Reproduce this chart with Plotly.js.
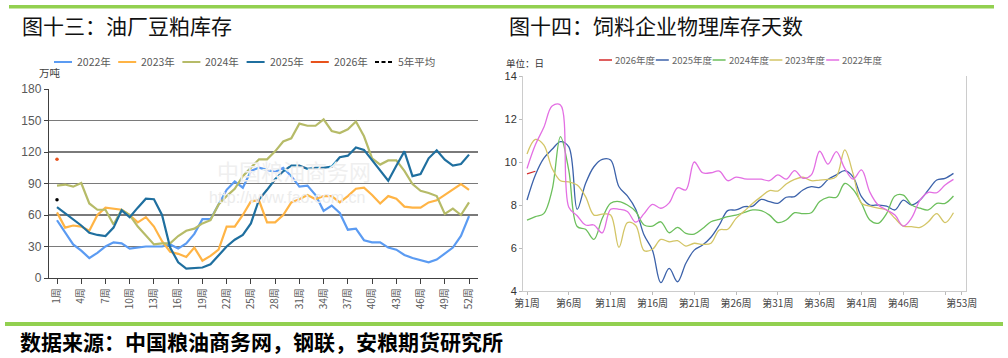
<!DOCTYPE html>
<html>
<head>
<meta charset="utf-8">
<script src="https://cdn.plot.ly/plotly-3.0.1.min.js"></script>
<style>html,body{margin:0;padding:0;background:#fff;}#chart{width:1008px;height:358px;}</style>
</head>
<body>
<div id="chart"></div>
<script>
// ---------- Left chart: 油厂豆粕库存 (万吨) ----------
const weeksL = [1,2,3,4,5,6,7,8,9,10,11,12,13,14,15,16,17,18,19,20,21,22,23,24,25,26,27,28,29,30,31,32,33,34,35,36,37,38,39,40,41,42,43,44,45,46,47,48,49,50,51,52];
const soy2022 = [55,43,32,26,19,24,30,34,33,28,29,30,30,30,32,28,33,42,56,56,70,84,92,86,102,105,103,101,105,97,87,88,79,64,69,62,46,47,36,34,34,29,27,22,19,17,15,17.5,23,29,40,59];
const soy2023 = [62.5,48,50,49,45,60,67,66,65,60,53,58,49,35,25,23,20,29,16.5,21,27,49,49,60,73,74,53,53,60,72,75,79,75,78,78,72,78,85,86,79,71,78,75.5,68,67,67,72,74,79,84,89.5,84];
const soy2024 = [88,89,87,90.5,71,65,65,51,65,60,49,40,32,33,33,40,45,47,52,55,70,78,85,97,105,113,113,120.6,130,133,147,145,145,151,140,138,141.6,149,135,114,108,112,112,102,89.5,83,81,78,61,66,60,72];
const soy2025 = [67.6,62,56,50,43,41,40,48,64.4,58,67,75.5,75,60,29,15,9,9.5,10,13,21,30,36.5,41,52,74.6,84,94,101.6,107,107,104,105,105,106,115,116.5,124.4,122,112,101.6,92.7,107,120.6,97,99,114,121.6,112.7,107,108.6,117.5];
const soy2026 = [113];
const soyAvg5 = [74.6];
const weeksLSingle = [1];
const tickValsL = [1,4,7,10,13,16,19,22,25,28,31,34,37,40,43,46,49,52];
const tickTextL = ["1周","4周","7周","10周","13周","16周","19周","22周","25周","28周","31周","34周","37周","40周","43周","46周","49周","52周"];

// ---------- Right chart: 饲料企业物理库存天数 (日) ----------
const weeksR = [1,2,3,4,5,6,7,8,9,10,11,12,13,14,15,16,17,18,19,20,21,22,23,24,25,26,27,28,29,30,31,32,33,34,35,36,37,38,39,40,41,42,43,44,45,46,47,48,49,50,51,52];
const feed2022 = [9.7,10.8,11.6,12.6,12.65,7.9,7.5,7.07,7.07,6.7,7.8,7.8,7.7,7.2,7.6,8.03,7.85,8.1,8.8,8.7,10.0,9.5,9.5,9.58,9.13,9.3,9.22,9.2,9.2,9.13,9.4,9.2,9.6,9.24,9.4,10.5,9.9,10.48,9.7,9.2,9.63,8.6,8.0,7.77,7.53,7.02,7.4,8.23,8.59,8.57,8.93,9.19];
const feed2023 = [10.37,11.05,10.8,9.7,9.13,9.08,8.93,8.39,7.53,7.58,7.53,6.03,7.18,7.05,5.88,5.94,6.4,6.29,6.34,6.09,6.22,6.17,6.22,6.84,6.87,7.38,7.72,8.08,8.39,8.67,8.65,8.98,9.19,9.29,9.13,9.16,9.19,9.32,10.56,9.45,8.08,7.95,7.85,7.77,7.38,7.02,6.99,6.96,7.22,7.6,7.18,7.64];
const feed2024 = [7.3,7.46,7.6,8.7,11.18,9.6,7.0,6.87,6.4,7.38,8.08,8.16,8.0,7.7,7.07,7.02,7.22,6.71,6.96,6.68,6.65,6.91,7.22,7.33,7.46,7.53,7.66,7.77,7.74,7.53,7.18,7.3,7.64,7.6,7.64,8.16,8.36,8.36,9.0,8.72,8.08,7.3,7.15,7.6,8.42,8.46,8.0,7.85,7.77,8.08,8.08,8.42];
const feed2025 = [8.23,9.4,10.17,10.59,10.95,10.7,7.8,9.0,9.78,10.12,10.09,8.85,8.42,7.8,6.6,5.9,4.39,5.05,4.43,5.29,5.9,6.14,6.5,7.07,7.74,7.77,7.92,7.95,8.26,8.16,8.08,8.36,8.39,8.7,8.85,8.82,9.19,9.4,9.6,9.3,8.39,8.0,8.0,7.95,7.77,8.23,8.0,8.23,8.7,9.16,9.24,9.47];
const feed2026 = [9.45,9.57];
const tickValsR = [1,6,11,16,21,26,31,36,41,46,51,53];
const tickTextR = ["第1周","第6周","第11周","第16周","第21周","第26周","第31周","第36周","第41周","第46周","","第53周"];

const W = 1008, H = 358;
const px = v => v / W;
const py = v => 1 - v / H;
const FONT = '"Noto Sans CJK SC","Liberation Sans",sans-serif';

const leftSeries = [
  {name:'2022年', x:weeksL, y:soy2022, color:'#5B9BF2', width:2.2, dash:'solid'},
  {name:'2023年', x:weeksL, y:soy2023, color:'#FFB445', width:2.2, dash:'solid'},
  {name:'2024年', x:weeksL, y:soy2024, color:'#B6BB68', width:2.2, dash:'solid'},
  {name:'2025年', x:weeksL, y:soy2025, color:'#1F6F9F', width:2.2, dash:'solid'},
  {name:'2026年', x:weeksLSingle, y:soy2026, color:'#E8521C', width:2.6, dash:'solid', dot:true},
  {name:'5年平均', x:weeksLSingle, y:soyAvg5, color:'#000000', width:2.2, dash:'dash', dot:true}
];
const rightSeries = [
  {name:'2026年度', x:weeksR.slice(0, feed2026.length), y:feed2026, color:'#D42A2A'},
  {name:'2025年度', x:weeksR, y:feed2025, color:'#3C62AA'},
  {name:'2024年度', x:weeksR, y:feed2024, color:'#6CBF5C'},
  {name:'2023年度', x:weeksR, y:feed2023, color:'#D3C566'},
  {name:'2022年度', x:weeksR, y:feed2022, color:'#E36FE3'}
];

const traces = [];
leftSeries.forEach(s => {
  traces.push({type:'scatter', mode: s.dot ? 'markers' : 'lines', x:s.x, y:s.y, name:s.name,
    line:{color:s.color, width:s.width, dash:s.dash}, marker:{color:s.color, size:3.5},
    xaxis:'x', yaxis:'y', showlegend:false});
});
rightSeries.forEach(s => traces.push({
  type:'scatter', mode:'lines', x:s.x, y:s.y, name:s.name,
  line:{color:s.color, width:1.3, shape:'spline', smoothing:1}, xaxis:'x2', yaxis:'y2', showlegend:false
}));

// legend keys (drawn as layout shapes + text)
const shapes = [
  {type:'rect', xref:'paper', yref:'paper', x0:px(9), x1:px(994), y0:py(8.5), y1:py(5), fillcolor:'#92D050', line:{width:0}},
  {type:'rect', xref:'paper', yref:'paper', x0:px(5), x1:px(1003), y0:py(326), y1:py(322), fillcolor:'#92D050', line:{width:0}}
];
const annotations = [];
leftSeries.forEach((s, i) => {
  const x0 = 54 + i * 64.2, yy = 62;
  shapes.push({type:'line', xref:'paper', yref:'paper', x0:px(x0), x1:px(x0 + 18), y0:py(yy), y1:py(yy),
    line:{color:s.color, width:s.dash === 'dash' ? 2.2 : 2, dash:s.dash === 'dash' ? '4px,2.5px' : 'solid'}});
  annotations.push({xref:'paper', yref:'paper', x:px(x0 + 21), y:py(yy), xanchor:'left', yanchor:'middle',
    showarrow:false, text:s.name, font:{size:10.5, color:'#595959', family:FONT}});
});
rightSeries.forEach((s, i) => {
  const x0 = 599 + i * 56.8, yy = 60;
  shapes.push({type:'line', xref:'paper', yref:'paper', x0:px(x0), x1:px(x0 + 13), y0:py(yy), y1:py(yy),
    line:{color:s.color, width:1.5}});
  annotations.push({xref:'paper', yref:'paper', x:px(x0 + 14), y:py(yy), xanchor:'left', yanchor:'middle',
    showarrow:false, text:s.name, font:{size:9.5, color:'#666666', family:FONT}});
});

annotations.push(
  {xref:'paper', yref:'paper', x:px(20), y:py(25), xanchor:'left', yanchor:'middle', showarrow:false,
   text:'图十三：油厂豆粕库存', font:{size:21, color:'#111111', family:FONT}},
  {xref:'paper', yref:'paper', x:px(507), y:py(25), xanchor:'left', yanchor:'middle', showarrow:false,
   text:'图十四：饲料企业物理库存天数', font:{size:21, color:'#111111', family:FONT}},
  {xref:'paper', yref:'paper', x:px(37), y:py(72), xanchor:'left', yanchor:'middle', showarrow:false,
   text:'万吨', font:{size:10.5, color:'#404040', family:FONT}},
  {xref:'paper', yref:'paper', x:px(504), y:py(63), xanchor:'left', yanchor:'middle', showarrow:false,
   text:'单位：日', font:{size:9.5, color:'#333333', family:FONT}},
  {xref:'paper', yref:'paper', x:px(215), y:py(170), xanchor:'left', yanchor:'middle', showarrow:false,
   text:'中国粮油商务网', font:{size:22, color:'#efefef', family:FONT}},
  {xref:'paper', yref:'paper', x:px(207), y:py(197), xanchor:'left', yanchor:'middle', showarrow:false,
   text:'http://www.fao.com.cn', font:{size:16, color:'#ececec', family:'"Liberation Sans",Arial,sans-serif'}},
  {xref:'paper', yref:'paper', x:px(18), y:py(341), xanchor:'left', yanchor:'middle', showarrow:false,
   text:'<b>数据来源：中国粮油商务网，钢联，安粮期货研究所</b>', font:{size:21, color:'#000000', family:FONT}}
);

const layout = {
  width:W, height:H, margin:{l:0,r:0,t:0,b:0},
  paper_bgcolor:'#ffffff', plot_bgcolor:'rgba(0,0,0,0)',
  font:{family:FONT, color:'#595959', size:12},
  showlegend:false,
  xaxis:{domain:[px(49), px(478)], range:[0.01, 53.11], anchor:'y',
    tickmode:'array', tickvals:tickValsL, ticktext:tickTextL, tickangle:-90,
    ticks:'outside', ticklen:5, tickcolor:'#404040', tickwidth:1,
    showline:true, linecolor:'#404040', linewidth:1.2, showgrid:false, zeroline:false,
    tickfont:{size:10, color:'#595959', family:FONT}},
  yaxis:{domain:[py(278), py(89)], range:[0,180], anchor:'x',
    tickmode:'array', tickvals:[0,30,60,90,120,150,180],
    ticks:'outside', ticklen:4, tickcolor:'#404040',
    showline:true, linecolor:'#404040', linewidth:1.2,
    showgrid:true, gridcolor:'#7a7a7a', gridwidth:1.5, zeroline:false,
    tickfont:{size:12, color:'#595959', family:'"Liberation Sans",Arial,sans-serif'}},
  xaxis2:{domain:[px(523), px(966)], range:[0.52, 53.5], anchor:'y2',
    tickmode:'array', tickvals:tickValsR, ticktext:tickTextR, tickangle:0,
    ticks:'outside', ticklen:3, tickcolor:'#bbbbbb',
    showline:true, linecolor:'#cccccc', linewidth:1, showgrid:false, zeroline:false,
    tickfont:{size:10, color:'#444444', family:FONT}},
  yaxis2:{domain:[py(291), py(76)], range:[4,14], anchor:'x2',
    tickmode:'array', tickvals:[4,6,8,10,12,14],
    ticks:'outside', ticklen:3, tickcolor:'#bbbbbb',
    showline:true, mirror:true, linecolor:'#cccccc', linewidth:1,
    showgrid:false, zeroline:false,
    tickfont:{size:11, color:'#333333', family:'"Liberation Sans",Arial,sans-serif'}},
  shapes: shapes,
  annotations: annotations
};

Plotly.newPlot('chart', traces, layout, {displayModeBar:false, staticPlot:true});
</script>
</body>
</html>
